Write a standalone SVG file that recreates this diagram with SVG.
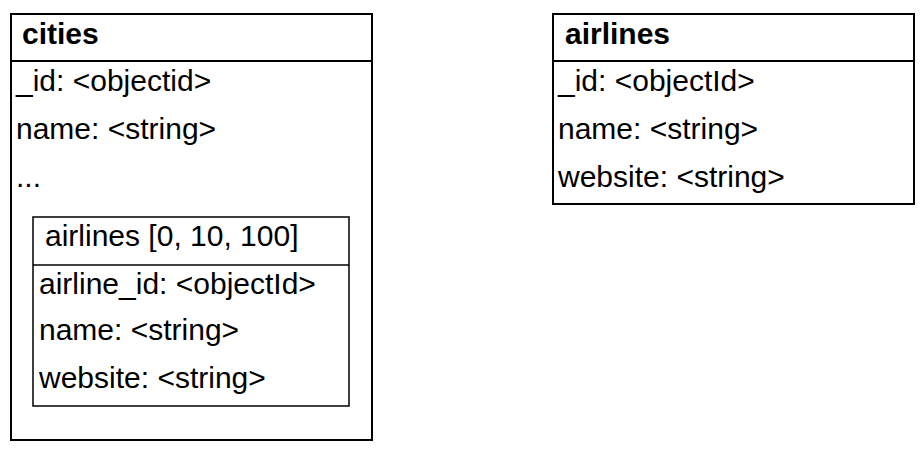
<svg xmlns="http://www.w3.org/2000/svg" width="924" height="452" viewBox="0 0 924 452">
<style>
.box{fill:#fff;stroke:#000;stroke-width:2}
.inner{fill:#fff;stroke:#000;stroke-width:1.5}
.t{font-family:"Liberation Sans",Arial,sans-serif;font-size:30px;fill:#000}
.b{font-weight:bold}
</style>
<rect width="924" height="452" fill="#fff"/>
<g id="cities">
<rect class="box" x="11" y="14" width="361" height="426"/>
<line class="box" x1="11" y1="61" x2="372" y2="61"/>
<text class="t b" x="22" y="44">cities</text>
<text class="t" x="16" y="91">_id: &lt;objectid&gt;</text>
<text class="t" x="16" y="139">name: &lt;string&gt;</text>
<text class="t" x="16" y="187">...</text>
</g>
<g id="cities-airlines">
<rect class="inner" x="33" y="217" width="316" height="189"/>
<line class="inner" x1="33" y1="265" x2="349" y2="265"/>
<text class="t" x="45" y="246">airlines [0, 10, 100]</text>
<text class="t" x="39" y="294">airline_id: &lt;objectId&gt;</text>
<text class="t" x="39" y="340">name: &lt;string&gt;</text>
<text class="t" x="39" y="388">website: &lt;string&gt;</text>
</g>
<g id="airlines">
<rect class="box" x="553" y="14" width="361" height="190"/>
<line class="box" x1="553" y1="61" x2="914" y2="61"/>
<text class="t b" x="565" y="44">airlines</text>
<text class="t" x="558" y="91">_id: &lt;objectId&gt;</text>
<text class="t" x="558" y="139">name: &lt;string&gt;</text>
<text class="t" x="558" y="187">website: &lt;string&gt;</text>
</g>
<g id="connectors"></g>
</svg>
